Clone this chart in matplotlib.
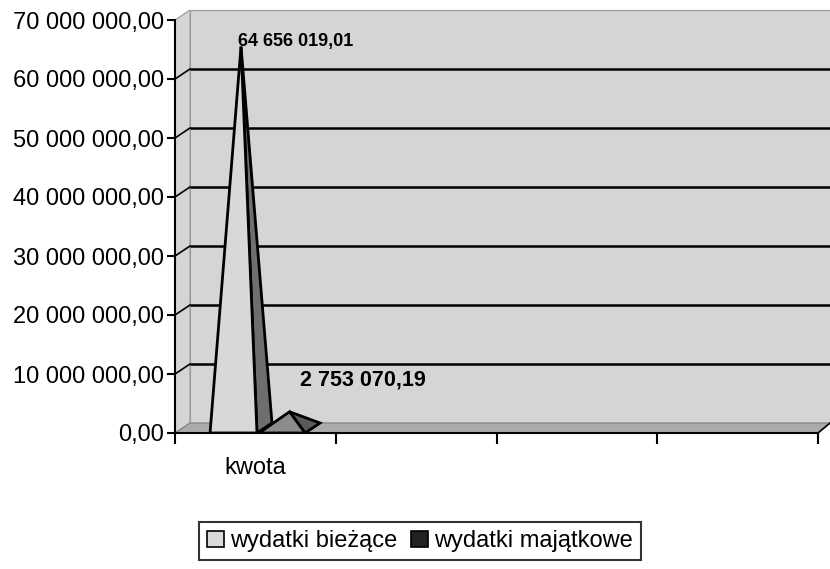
# plot.py
import matplotlib
matplotlib.use("Agg")
import matplotlib.pyplot as plt
from matplotlib.patches import Polygon, Patch

plt.rcParams["font.family"] = ["Liberation Sans", "DejaVu Sans"]

categories = ["kwota", "", "", ""]
series_names = ["wydatki bieżące", "wydatki majątkowe"]
series_values = [64656019.01, 2753070.19]
y_ticks = [0, 10e6, 20e6, 30e6, 40e6, 50e6, 60e6, 70e6]

front_colors = ["#d8d8d8", "#8c8c8c"]
side_colors = ["#6e6e6e", "#5a5a5a"]
legend_colors = ["#dadada", "#222222"]

WALL = "#d5d5d5"
FLOOR = "#ababab"

# 3d depth offset (px -> data units)
PX_X = 160.75          # px per category
PX_Y = 5.9 / 1e6       # px per unit
DX = 15 / PX_X
DY = 10 / PX_Y


def pl_number(v):
    return f"{v:,.2f}".replace(",", " ").replace(".", ",")


def draw_walls(ax):
    top = y_ticks[-1]
    right = len(categories) + DX * 1.2
    ax.add_patch(Polygon([(DX, DY), (right, DY), (right, top + DY), (DX, top + DY)],
                         closed=True, facecolor=WALL, edgecolor="#9a9a9a", lw=0.8,
                         zorder=0, clip_on=False))
    ax.add_patch(Polygon([(0, 0), (0, top), (DX, top + DY), (DX, DY)],
                         closed=True, facecolor=WALL, edgecolor="#9a9a9a", lw=0.8,
                         zorder=0, clip_on=False))
    ax.add_patch(Polygon([(0, 0), (len(categories), 0), (len(categories) + DX * 0.8, DY),
                          (DX, DY)],
                         closed=True, facecolor=FLOOR, edgecolor="#808080", lw=0.8,
                         zorder=0.5, clip_on=False))
    for v in y_ticks[1:-1]:
        ax.plot([DX, right], [v + DY, v + DY], color="black", lw=1.8, zorder=1,
                clip_on=False, solid_capstyle="butt")
        ax.plot([0, DX], [v, v + DY], color="black", lw=1.2, zorder=1, clip_on=False)
    ax.plot([len(categories), len(categories) + DX * 0.8], [0, DY], color="black",
            lw=1.2, zorder=1, clip_on=False)


def draw_pyramid(ax, x0, w, value, front, side):
    fl = (x0, 0)
    fr = (x0 + w, 0)
    br = (x0 + w + DX, DY)
    apex = (x0 + w / 2 + DX / 2, value + DY / 2)
    ax.add_patch(Polygon([fr, br, apex], closed=True, facecolor=side,
                         edgecolor="black", lw=2, zorder=3, joinstyle="miter"))
    ax.add_patch(Polygon([fl, fr, apex], closed=True, facecolor=front,
                         edgecolor="black", lw=2, zorder=4, joinstyle="miter"))


def main():
    fig = plt.figure(figsize=(8.3, 5.69), dpi=100)
    ax = fig.add_axes([175 / 830, 136 / 569, 643 / 830, 413 / 569])
    ax.set_xlim(0, len(categories))
    ax.set_ylim(0, y_ticks[-1])
    ax.set_facecolor("none")

    draw_walls(ax)

    # pyramids of the first category
    x_starts = [0.218, 0.523]
    widths = [0.292, 0.286]
    for x0, w, v, fc, sc in zip(x_starts, widths, series_values, front_colors, side_colors):
        draw_pyramid(ax, x0, w, v, fc, sc)

    # data labels
    ax.text(0.39, series_values[0] + 1.7e6, pl_number(series_values[0]),
            ha="left", va="center", fontsize=13, fontweight="bold", zorder=6)
    ax.text(0.78, series_values[1] + 6.2e6, pl_number(series_values[1]),
            ha="left", va="center", fontsize=15.5, fontweight="bold", zorder=6)

    ax.set_yticks(y_ticks)
    ax.set_yticklabels([pl_number(v) for v in y_ticks], fontsize=17)
    ax.set_xticks(range(len(categories) + 1))
    ax.set_xticklabels([""] * (len(categories) + 1))
    ax.set_xticks([i + 0.5 for i in range(len(categories))], minor=True)
    ax.set_xticklabels(categories, minor=True, fontsize=17)
    ax.tick_params(axis="x", which="minor", length=0, pad=17)
    ax.tick_params(axis="x", which="major", length=8, width=1.5, direction="out")
    ax.tick_params(axis="y", length=6, width=1.5, direction="out", pad=2)

    for s in ["top", "right"]:
        ax.spines[s].set_visible(False)
    ax.spines["left"].set_linewidth(1.5)
    ax.spines["bottom"].set_linewidth(1.5)
    ax.spines["left"].set_zorder(5)
    ax.spines["bottom"].set_zorder(5)

    handles = [Patch(facecolor=c, edgecolor="black", lw=1.2) for c in legend_colors]
    leg = fig.legend(handles, series_names, loc="center", bbox_to_anchor=(0.506, 0.049),
                     ncol=2, fontsize=17, frameon=True, fancybox=False,
                     handlelength=0.7, handleheight=0.7, handletextpad=0.25,
                     columnspacing=0.6, borderpad=0.35, borderaxespad=0)
    leg.get_frame().set_edgecolor("black")
    leg.get_frame().set_linewidth(1.5)

    fig.savefig("out.png", dpi=100, facecolor="white")
    plt.close(fig)


if __name__ == "__main__":
    main()
